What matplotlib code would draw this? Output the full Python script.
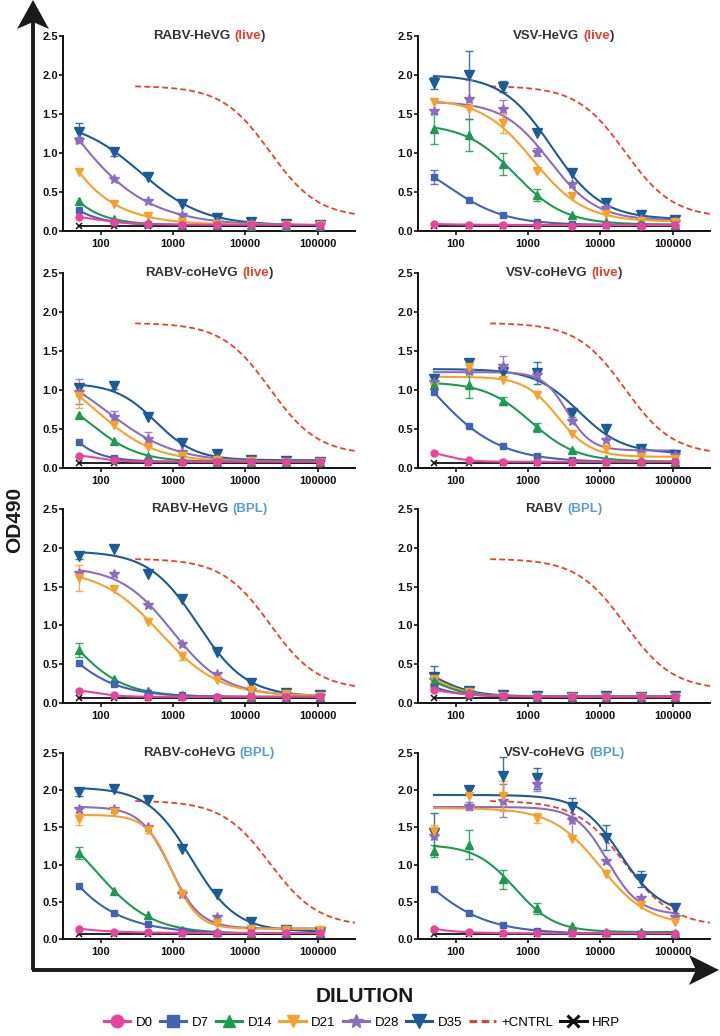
import numpy as np
import matplotlib
matplotlib.use("Agg")
import matplotlib.pyplot as plt
from matplotlib.lines import Line2D
from matplotlib.patches import Polygon
from matplotlib.offsetbox import TextArea, HPacker, AnchoredOffsetbox

plt.rcParams['font.family'] = ['Liberation Sans', 'DejaVu Sans']

# ---------------- data ----------------
DILUTIONS = [50, 150, 450, 1350, 4050, 12150, 36450, 109350]
SERIES = ['D0', 'D7', 'D14', 'D21', 'D28', 'D35']
Y_TICKS = [0.0, 0.5, 1.0, 1.5, 2.0, 2.5]
X_TICKS = [100, 1000, 10000, 100000]
X_TICK_LABELS = ['100', '1000', '10000', '100000']

# positive control 4PL parameters (top, bottom, EC50, hill) and drawn range
CNTRL_TOP, CNTRL_BOTTOM, CNTRL_EC50, CNTRL_HILL = 1.86, 0.17, 22000, 1.3
CNTRL_RANGE = [300, 330000]

RABV_HEVG_LIVE = {
    'D0':  [0.18, 0.12, 0.09, 0.08, 0.08, 0.08, 0.08, 0.08],
    'D7':  [0.265, 0.12, 0.09, 0.08, 0.075, 0.075, 0.07, 0.07],
    'D14': [0.38, 0.15, 0.10, 0.08, 0.08, 0.07, 0.07, 0.07],
    'D21': [0.76, 0.35, 0.19, 0.11, 0.09, 0.08, 0.08, 0.08],
    'D28': [1.17, 0.67, 0.38, 0.20, 0.12, 0.09, 0.08, 0.08],
    'D35': [1.27, 1.01, 0.69, 0.35, 0.17, 0.11, 0.085, 0.08],
    'HRP': [0.07, 0.07, 0.07, 0.07, 0.07, 0.07, 0.07, 0.07],
}
RABV_HEVG_LIVE_ERR = [('D35', 0, 0.11), ('D35', 1, 0.05), ('D28', 0, 0.04)]

VSV_HEVG_LIVE = {
    'D0':  [0.09, 0.08, 0.08, 0.08, 0.07, 0.08, 0.07, 0.08],
    'D7':  [0.69, 0.40, 0.21, 0.115, 0.09, 0.08, 0.08, 0.08],
    'D14': [1.31, 1.23, 0.86, 0.46, 0.21, 0.11, 0.09, 0.08],
    'D21': [1.66, 1.56, 1.38, 0.77, 0.45, 0.22, 0.13, 0.11],
    'D28': [1.54, 1.69, 1.56, 1.01, 0.60, 0.29, 0.15, 0.12],
    'D35': [1.90, 2.00, 1.85, 1.26, 0.745, 0.36, 0.20, 0.14],
    'HRP': [0.07, 0.07, 0.07, 0.07, 0.07, 0.07, 0.07, 0.07],
}
VSV_HEVG_LIVE_ERR = [('D35', 0, 0.08), ('D35', 1, 0.31), ('D35', 2, 0.07),
                     ('D28', 1, 0.25), ('D28', 2, 0.12), ('D28', 3, 0.05),
                     ('D21', 2, 0.12), ('D14', 0, 0.20), ('D14', 1, 0.20),
                     ('D14', 2, 0.14), ('D14', 3, 0.08), ('D7', 0, 0.09)]

RABV_COHEVG_LIVE = {
    'D0':  [0.16, 0.10, 0.08, 0.08, 0.08, 0.08, 0.08, 0.08],
    'D7':  [0.33, 0.13, 0.09, 0.08, 0.08, 0.08, 0.08, 0.08],
    'D14': [0.68, 0.35, 0.16, 0.10, 0.08, 0.08, 0.08, 0.08],
    'D21': [0.92, 0.55, 0.27, 0.15, 0.10, 0.09, 0.08, 0.08],
    'D28': [0.98, 0.66, 0.37, 0.21, 0.11, 0.09, 0.08, 0.08],
    'D35': [1.02, 1.05, 0.65, 0.32, 0.18, 0.10, 0.09, 0.08],
    'HRP': [0.07, 0.07, 0.07, 0.07, 0.07, 0.07, 0.07, 0.07],
}
RABV_COHEVG_LIVE_ERR = [('D28', 0, 0.16), ('D28', 1, 0.07), ('D28', 2, 0.09),
                        ('D21', 0, 0.15), ('D35', 1, 0.04)]

VSV_COHEVG_LIVE = {
    'D0':  [0.19, 0.10, 0.08, 0.08, 0.08, 0.08, 0.08, 0.08],
    'D7':  [0.97, 0.535, 0.28, 0.15, 0.10, 0.08, 0.08, 0.08],
    'D14': [1.07, 1.06, 0.86, 0.52, 0.235, 0.12, 0.09, 0.08],
    'D21': [1.04, 1.30, 1.13, 0.94, 0.43, 0.24, 0.14, 0.12],
    'D28': [1.10, 1.24, 1.31, 1.19, 0.60, 0.36, 0.20, 0.17],
    'D35': [1.14, 1.35, 1.23, 1.22, 0.71, 0.50, 0.25, 0.17],
    'HRP': [0.07, 0.07, 0.07, 0.07, 0.07, 0.07, 0.07, 0.07],
}
VSV_COHEVG_LIVE_ERR = [('D35', 3, 0.14), ('D28', 2, 0.13), ('D14', 1, 0.16),
                       ('D14', 2, 0.05), ('D14', 3, 0.06), ('D35', 4, 0.06)]

RABV_HEVG_BPL = {
    'D0':  [0.16, 0.10, 0.08, 0.08, 0.08, 0.08, 0.08, 0.08],
    'D7':  [0.51, 0.245, 0.135, 0.10, 0.08, 0.08, 0.08, 0.08],
    'D14': [0.68, 0.31, 0.15, 0.10, 0.08, 0.08, 0.08, 0.08],
    'D21': [1.61, 1.47, 1.05, 0.61, 0.30, 0.17, 0.11, 0.09],
    'D28': [1.67, 1.66, 1.26, 0.76, 0.37, 0.17, 0.11, 0.09],
    'D35': [1.90, 1.99, 1.66, 1.34, 0.66, 0.26, 0.13, 0.10],
    'HRP': [0.07, 0.07, 0.07, 0.07, 0.07, 0.07, 0.07, 0.07],
}
RABV_HEVG_BPL_ERR = [('D21', 0, 0.17), ('D14', 0, 0.09), ('D21', 3, 0.05),
                     ('D35', 0, 0.04)]

RABV_BPL = {
    'D0':  [0.17, 0.11, 0.09, 0.08, 0.08, 0.08, 0.08, 0.08],
    'D7':  [0.21, 0.11, 0.09, 0.08, 0.08, 0.08, 0.08, 0.08],
    'D14': [0.28, 0.13, 0.09, 0.08, 0.08, 0.08, 0.08, 0.08],
    'D21': [0.31, 0.14, 0.09, 0.08, 0.08, 0.08, 0.08, 0.08],
    'D28': [0.30, 0.14, 0.09, 0.08, 0.08, 0.08, 0.08, 0.08],
    'D35': [0.34, 0.16, 0.10, 0.09, 0.08, 0.09, 0.08, 0.09],
    'HRP': [0.07, 0.07, 0.07, 0.07, 0.07, 0.07, 0.07, 0.07],
}
RABV_BPL_ERR = [('D35', 0, 0.14), ('D14', 0, 0.05), ('D21', 0, 0.05),
                ('D35', 1, 0.03)]

RABV_COHEVG_BPL = {
    'D0':  [0.14, 0.10, 0.09, 0.08, 0.08, 0.08, 0.08, 0.08],
    'D7':  [0.715, 0.35, 0.20, 0.11, 0.08, 0.08, 0.07, 0.07],
    'D14': [1.16, 0.65, 0.32, 0.12, 0.09, 0.08, 0.08, 0.08],
    'D21': [1.61, 1.71, 1.47, 0.61, 0.22, 0.14, 0.12, 0.12],
    'D28': [1.75, 1.75, 1.50, 0.61, 0.30, 0.14, 0.12, 0.10],
    'D35': [1.97, 2.01, 1.87, 1.21, 0.61, 0.23, 0.12, 0.09],
    'HRP': [0.07, 0.07, 0.07, 0.07, 0.07, 0.07, 0.07, 0.07],
}
RABV_COHEVG_BPL_ERR = [('D21', 0, 0.08), ('D14', 0, 0.08), ('D21', 2, 0.05),
                       ('D35', 0, 0.05)]

VSV_COHEVG_BPL = {
    'D0':  [0.14, 0.09, 0.08, 0.08, 0.08, 0.08, 0.07, 0.07],
    'D7':  [0.67, 0.35, 0.19, 0.11, 0.08, 0.08, 0.07, 0.07],
    'D14': [1.18, 1.27, 0.80, 0.41, 0.17, 0.10, 0.09, 0.08],
    'D21': [1.45, 1.92, 1.92, 1.63, 1.35, 0.88, 0.46, 0.23],
    'D28': [1.38, 1.79, 1.86, 2.09, 1.60, 1.05, 0.55, 0.30],
    'D35': [1.42, 2.00, 2.19, 2.16, 1.77, 1.36, 0.81, 0.41],
    'HRP': [0.07, 0.07, 0.07, 0.07, 0.07, 0.07, 0.07, 0.07],
}
VSV_COHEVG_BPL_ERR = [('D35', 0, 0.28), ('D35', 2, 0.25), ('D35', 3, 0.14),
                      ('D35', 4, 0.13), ('D35', 5, 0.17), ('D35', 6, 0.11),
                      ('D35', 7, 0.06), ('D28', 1, 0.05), ('D28', 2, 0.22),
                      ('D28', 3, 0.10), ('D28', 4, 0.20), ('D21', 0, 0.08),
                      ('D21', 2, 0.20), ('D21', 3, 0.07), ('D14', 0, 0.08),
                      ('D14', 1, 0.20), ('D14', 2, 0.13), ('D14', 3, 0.08)]

PANEL_TITLES = ['RABV-HeVG', 'VSV-HeVG', 'RABV-coHeVG', 'VSV-coHeVG',
                'RABV-HeVG', 'RABV', 'RABV-coHeVG', 'VSV-coHeVG']
PANEL_TAGS = ['live', 'live', 'live', 'live', 'BPL', 'BPL', 'BPL', 'BPL']
PANEL_DATA = [RABV_HEVG_LIVE, VSV_HEVG_LIVE, RABV_COHEVG_LIVE, VSV_COHEVG_LIVE,
              RABV_HEVG_BPL, RABV_BPL, RABV_COHEVG_BPL, VSV_COHEVG_BPL]
PANEL_ERRS = [RABV_HEVG_LIVE_ERR, VSV_HEVG_LIVE_ERR, RABV_COHEVG_LIVE_ERR,
              VSV_COHEVG_LIVE_ERR, RABV_HEVG_BPL_ERR, RABV_BPL_ERR,
              RABV_COHEVG_BPL_ERR, VSV_COHEVG_BPL_ERR]

# ---------------- styles ----------------
COLORS = {'D0': '#e8449b', 'D7': '#4262b2', 'D14': '#1e9a50', 'D21': '#f7a12c',
          'D28': '#8b6cbf', 'D35': '#1b5b97', 'HRP': '#111111', 'CNTRL': '#e8402a'}
MARKERS = {'D0': ('o', 5), 'D7': ('s', 5), 'D14': ('^', 5.5), 'D21': ('v', 5.5),
           'D28': ('*', 7), 'D35': ('v', 7), 'HRP': ('x', 4.5)}
LEG_MS = {'D0': 9, 'D7': 9, 'D14': 9, 'D21': 9, 'D28': 10.5, 'D35': 10}
TAG_COLORS = {'live': '#e8402a', 'BPL': '#5b9bd5'}
TITLE_COLOR = '#333333'

W, H = 720, 1036
ROW_PX = [(36, 231), (273, 468), (509, 703), (753, 939)]
COL_PX = [(63, 355), (418, 710)]
XLIM = (30, 330000)


def fit4pl(x, y):
    """Least-squares 4-parameter logistic fit (grid over EC50/hill, linear in top/bottom)."""
    lx = np.log10(np.asarray(x, float))
    y = np.asarray(y, float)
    lec = np.arange(0.0, 6.0, 0.01)
    hill = np.arange(0.6, 2.6, 0.02)
    L, Hh = np.meshgrid(lec, hill, indexing='ij')
    g = 1.0 / (1.0 + 10 ** ((lx[None, None, :] - L[..., None]) * Hh[..., None]))
    n = len(y)
    sg = g.sum(-1)
    sgg = (g * g).sum(-1)
    sy = y.sum()
    sgy = (g * y).sum(-1)
    det = n * sgg - sg ** 2
    ok = det > 1e-9
    det_s = np.where(ok, det, 1.0)
    d = (n * sgy - sg * sy) / det_s
    b = (sy - d * sg) / n
    res = ((b[..., None] + d[..., None] * g - y) ** 2).sum(-1)
    res = np.where(ok, res, np.inf)
    i, j = np.unravel_index(np.argmin(res), res.shape)
    return b[i, j], d[i, j], 10 ** lec[i], hill[j]


def logistic(x, bottom, span, ec50, h):
    return bottom + span / (1.0 + (x / ec50) ** h)


fig = plt.figure(figsize=(W / 100, H / 100), dpi=100)

# overlay for big arrows
ov = fig.add_axes([0, 0, 1, 1], zorder=-1)
ov.set_xlim(0, W)
ov.set_ylim(H, 0)
ov.axis('off')
ov.plot([33, 33], [970, 18], color='#1a1a1a', lw=2.8, solid_capstyle='butt')
ov.plot([31.6, 698], [970, 970], color='#1a1a1a', lw=2.8, solid_capstyle='butt')
ov.add_patch(Polygon([(33, 0), (17, 29), (33, 22), (49, 29)], closed=True,
                     color='#1a1a1a', lw=0))
ov.add_patch(Polygon([(719, 970), (689, 955), (696, 970), (689, 985)], closed=True,
                     color='#1a1a1a', lw=0))

xs_fit = np.logspace(np.log10(DILUTIONS[0]), np.log10(DILUTIONS[-1]), 300)
xs_c = np.logspace(np.log10(CNTRL_RANGE[0]), np.log10(CNTRL_RANGE[1]), 300)
draw_order = ['D35', 'D28', 'D21', 'D14', 'D7', 'HRP', 'D0']

for k in range(8):
    r, c = divmod(k, 2)
    top_px, bot_px = ROW_PX[r]
    l_px, r_px = COL_PX[c]
    ax = fig.add_axes([l_px / W, 1 - bot_px / H, (r_px - l_px) / W, (bot_px - top_px) / H])
    data = PANEL_DATA[k]
    errs = PANEL_ERRS[k]

    # positive control
    ax.plot(xs_c, logistic(xs_c, CNTRL_BOTTOM, CNTRL_TOP - CNTRL_BOTTOM, CNTRL_EC50, CNTRL_HILL),
            ls=(0, (3.2, 1.8)), color=COLORS['CNTRL'], lw=1.3, zorder=2)

    for s in draw_order:
        y = np.array(data[s])
        col = COLORS[s]
        m, ms = MARKERS[s]
        if s == 'HRP':
            ax.plot(DILUTIONS, y, color=col, lw=1.3, zorder=3, clip_on=False)
            ax.plot(DILUTIONS, y, ls='none', marker=m, ms=ms, mew=1.1, color=col,
                    zorder=3, clip_on=False)
            continue
        b, d, ec, hh = fit4pl(DILUTIONS, y)
        ax.plot(xs_fit, logistic(xs_fit, b, d, ec, hh), color=col, lw=1.5, zorder=3)
        for (ss, idx, e) in errs:
            if ss == s:
                ax.errorbar([DILUTIONS[idx]], [y[idx]], yerr=[[e], [e]], fmt='none',
                            ecolor=col, elinewidth=1.0, capsize=3, capthick=1.0,
                            zorder=3, clip_on=False, alpha=0.85)
        ax.plot(DILUTIONS, y, ls='none', marker=m, ms=ms, color=col, mec=col,
                zorder=4, clip_on=False)

    ax.set_xscale('log')
    ax.set_xlim(*XLIM)
    ax.set_ylim(0, 2.5)
    ax.set_yticks(Y_TICKS)
    ax.set_yticklabels(['%.1f' % v for v in Y_TICKS])
    ax.set_xticks(X_TICKS)
    ax.set_xticklabels(X_TICK_LABELS)
    ax.xaxis.set_minor_locator(matplotlib.ticker.NullLocator())
    for sp in ['top', 'right']:
        ax.spines[sp].set_visible(False)
    for sp in ['left', 'bottom']:
        ax.spines[sp].set_linewidth(1.4)
        ax.spines[sp].set_color('#111111')
    ax.tick_params(axis='y', length=3, width=1.2, pad=0.5, labelsize=8, colors='#111111')
    ax.tick_params(axis='x', length=3, width=1.2, pad=2.5, labelsize=8, colors='#111111')
    for lab in ax.get_xticklabels() + ax.get_yticklabels():
        lab.set_fontweight('bold')
    ax.patch.set_alpha(0)

    tag = PANEL_TAGS[k]
    fs = 9.5
    t1 = TextArea(PANEL_TITLES[k], textprops=dict(color=TITLE_COLOR, fontsize=fs, fontweight='bold'))
    if tag == 'live':
        t2 = HPacker(children=[
            TextArea('(live', textprops=dict(color=TAG_COLORS[tag], fontsize=fs, fontweight='bold')),
            TextArea(')', textprops=dict(color=TITLE_COLOR, fontsize=fs, fontweight='bold'))],
            sep=0, pad=0, align='baseline')
    else:
        t2 = TextArea('(BPL)', textprops=dict(color=TAG_COLORS[tag], fontsize=fs, fontweight='bold'))
    box = HPacker(children=[t1, t2], sep=3, pad=0, align='baseline')
    ab = AnchoredOffsetbox(loc='center', child=box, bbox_to_anchor=(0.5, 1.0),
                           bbox_transform=ax.transAxes, frameon=False, pad=0, borderpad=0)
    ax.add_artist(ab)

fig.text(15 / W, 1 - 520 / H, 'OD490', rotation=90, ha='center', va='center',
         fontsize=15, fontweight='bold', color='#1a1a1a')
fig.text(365 / W, 1 - 997 / H, 'DILUTION', ha='center', va='center',
         fontsize=15, fontweight='bold', color='#1a1a1a')

handles = []
labels = []
for s in SERIES:
    m, ms = MARKERS[s]
    handles.append(Line2D([], [], color=COLORS[s], marker=m, ms=LEG_MS[s], lw=2.2))
    labels.append(s)
handles.append(Line2D([], [], color=COLORS['CNTRL'], ls=(0, (2.5, 1.5)), lw=2.2))
labels.append('+CNTRL')
handles.append(Line2D([], [], color=COLORS['HRP'], marker='x', ms=9, mew=2.2, lw=2.2))
labels.append('HRP')
fig.legend(handles, labels, loc='center', bbox_to_anchor=(362 / W, 1 - 1023 / H),
           ncol=8, frameon=False, fontsize=9.5, handlelength=2.0, handletextpad=0.4,
           columnspacing=0.55, borderpad=0)

fig.savefig('out.png', dpi=100)
